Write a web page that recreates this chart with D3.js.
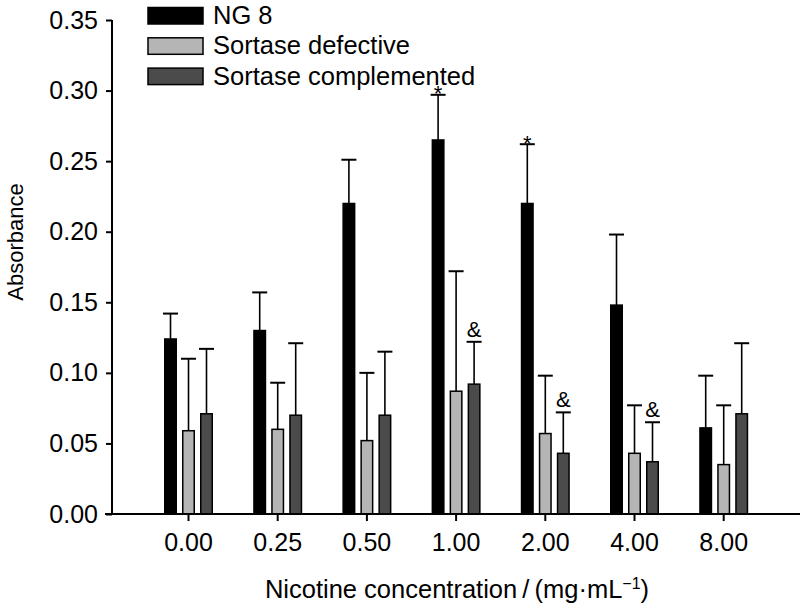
<!DOCTYPE html>
<html>
<head>
<meta charset="utf-8">
<script src="https://cdn.jsdelivr.net/npm/d3@7/dist/d3.min.js"></script>
<style>
  html, body { margin: 0; padding: 0; background: #fff; }
  svg { display: block; font-family: "Liberation Sans", Arial, sans-serif; }
</style>
</head>
<body>
<svg id="chart" width="802" height="607"></svg>
<script>
// ---- data ----
const categories = ["0.00", "0.25", "0.50", "1.00", "2.00", "4.00", "8.00"];
const seriesNames = ["NG 8", "Sortase defective", "Sortase complemented"];
const seriesColors = ["#000000", "#b5b5b5", "#4b4b4b"];
const ng8Mean   = [0.124, 0.130, 0.220, 0.265, 0.220, 0.148, 0.061];
const ng8Err    = [0.142, 0.157, 0.251, 0.297, 0.262, 0.198, 0.098];
const defMean   = [0.059, 0.060, 0.052, 0.087, 0.057, 0.043, 0.035];
const defErr    = [0.110, 0.093, 0.100, 0.172, 0.098, 0.077, 0.077];
const compMean  = [0.071, 0.070, 0.070, 0.092, 0.043, 0.037, 0.071];
const compErr   = [0.117, 0.121, 0.115, 0.122, 0.072, 0.065, 0.121];
const yTicks = [0.00, 0.05, 0.10, 0.15, 0.20, 0.25, 0.30, 0.35];
// significance marks: [category index, series index, symbol]
const marks = [[3, 0, "*"], [4, 0, "*"], [3, 2, "&"], [4, 2, "&"], [5, 2, "&"]];

const means = [ng8Mean, defMean, compMean];
const errs = [ng8Err, defErr, compErr];

const svg = d3.select("#chart");

const y = d3.scaleLinear().domain([0, 0.35]).range([514, 20]);
const x0 = d3.scaleBand().domain(categories).range([143.9, 768.3]).paddingInner(0).paddingOuter(0);
const x1 = d3.scalePoint().domain(seriesNames).range([-18, 18]);
const cx = (c, s) => x0(c) + x0.bandwidth() / 2 + x1(s);

const barW = 11.5;

const rows = [];
categories.forEach((c, ci) => {
  seriesNames.forEach((s, si) => {
    rows.push({c, s, si, v: means[si][ci], e: errs[si][ci]});
  });
});

const g = svg.append("g");
g.selectAll("line.err").data(rows).join("line")
  .attr("x1", d => cx(d.c, d.s)).attr("x2", d => cx(d.c, d.s))
  .attr("y1", d => y(d.v)).attr("y2", d => y(d.e))
  .attr("stroke", "#000").attr("stroke-width", 1.6);
g.selectAll("line.cap").data(rows).join("line")
  .attr("x1", d => cx(d.c, d.s) - 7.5).attr("x2", d => cx(d.c, d.s) + 7.5)
  .attr("y1", d => y(d.e)).attr("y2", d => y(d.e))
  .attr("stroke", "#000").attr("stroke-width", 2);
g.selectAll("rect.bar").data(rows).join("rect")
  .attr("x", d => cx(d.c, d.s) - barW / 2)
  .attr("y", d => y(d.v))
  .attr("width", barW)
  .attr("height", d => y(0) - y(d.v))
  .attr("fill", d => seriesColors[d.si])
  .attr("stroke", "#000").attr("stroke-width", 1.5);

// significance marks
marks.forEach(([ci, si, sym]) => {
  const c = categories[ci], s = seriesNames[si];
  const ey = y(errs[si][ci]);
  svg.append("text")
    .attr("x", cx(c, s))
    .attr("y", sym === "*" ? ey + 6.5 : ey - 5)
    .attr("text-anchor", "middle")
    .attr("font-size", sym === "*" ? 22 : 22)
    .text(sym);
});

// y axis
const yAxis = d3.axisLeft(y).tickValues(yTicks).tickFormat(d3.format(".2f")).tickSize(6).tickPadding(8);
const ya = svg.append("g").attr("transform", "translate(112,0)").call(yAxis);
ya.select(".domain").attr("d", "M0,20V514").attr("stroke-width", 2);
ya.selectAll(".tick line").attr("stroke-width", 2);
ya.selectAll(".tick text").attr("font-size", 25).attr("fill", "#000")
  .attr("font-family", "Liberation Sans, Arial, sans-serif");

// x axis
const xAxis = d3.axisBottom(x0).tickSize(7).tickPadding(12);
const xa = svg.append("g").attr("transform", "translate(0,514)").call(xAxis);
xa.select(".domain").attr("d", "M105,0H800").attr("stroke-width", 2);
xa.selectAll(".tick line").attr("stroke-width", 2);
xa.selectAll(".tick text").attr("font-size", 25).attr("fill", "#000")
  .attr("font-family", "Liberation Sans, Arial, sans-serif");

// axis titles
svg.append("text")
  .attr("transform", "translate(23,242) rotate(-90)")
  .attr("text-anchor", "middle").attr("font-size", 22)
  .text("Absorbance");

const xt = svg.append("text")
  .attr("x", 457).attr("y", 598)
  .attr("text-anchor", "middle").attr("font-size", 25.5);
xt.append("tspan").text("Nicotine concentration\u2009/\u2009(mg\u00b7mL");
xt.append("tspan").attr("font-size", 16).attr("dy", -9).text("\u22121");
xt.append("tspan").attr("dy", 9).text(")");

// legend
const lg = svg.append("g");
seriesNames.forEach((s, i) => {
  const by = 24 + i * 30.3;
  lg.append("rect").attr("x", 148).attr("y", by - 16.5).attr("width", 55).attr("height", 16.5)
    .attr("fill", seriesColors[i]).attr("stroke", "#000").attr("stroke-width", 1.5);
  lg.append("text").attr("x", 213).attr("y", by).attr("font-size", 25.5).text(s);
});
</script>
</body>
</html>
